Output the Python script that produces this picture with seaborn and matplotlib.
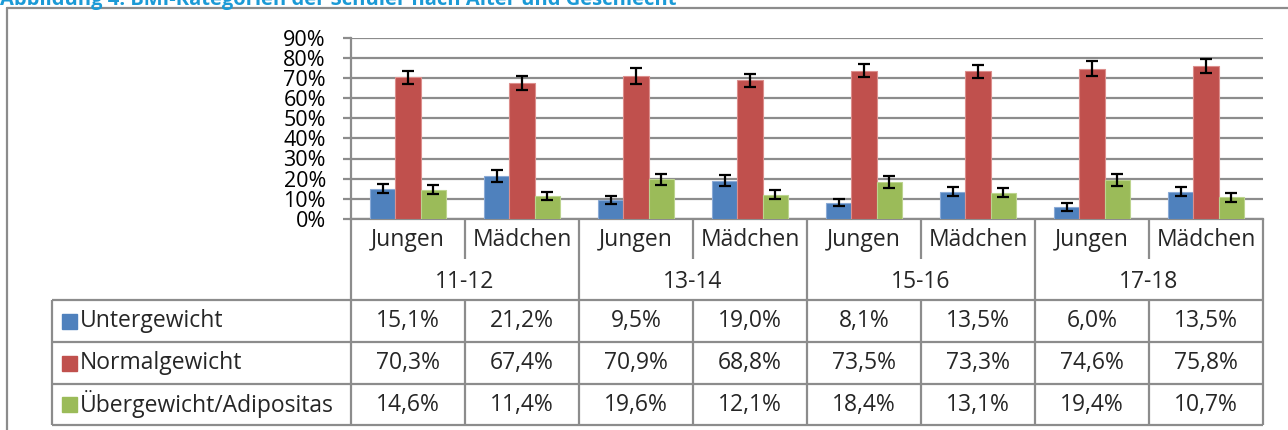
import pandas as pd
import matplotlib
matplotlib.use("Agg")
import matplotlib.pyplot as plt
import matplotlib.transforms as mtransforms
from matplotlib.lines import Line2D
from matplotlib.patches import Rectangle
import seaborn as sns

# daten
altersgruppen = ["11-12", "13-14", "15-16", "17-18"]
geschlechter = ["Jungen", "Mädchen"]
kategorien = ["Untergewicht", "Normalgewicht", "Übergewicht/Adipositas"]
untergewicht = [15.1, 21.2, 9.5, 19.0, 8.1, 13.5, 6.0, 13.5]
normalgewicht = [70.3, 67.4, 70.9, 68.8, 73.5, 73.3, 74.6, 75.8]
uebergewicht = [14.6, 11.4, 19.6, 12.1, 18.4, 13.1, 19.4, 10.7]
# halbe laenge der fehlerbalken
fehler_unter = [2.4, 3.0, 2.1, 2.7, 1.8, 2.3, 1.8, 2.2]
fehler_normal = [3.3, 3.6, 3.9, 3.2, 3.3, 3.2, 3.7, 3.3]
fehler_ueber = [2.3, 2.1, 2.9, 2.3, 3.0, 2.3, 3.1, 2.1]
y_ticks = [0, 10, 20, 30, 40, 50, 60, 70, 80, 90]
titel = "Abbildung 4: BMI-Kategorien der Schüler nach Alter und Geschlecht"

farben = ["#4F81BD", "#C0504D", "#9BBB59"]
kanten = ["#8AAAD6", "#DC8E8C", "#BCD48E"]
grau = "#8C8C8C"
fs = 16.5

# long format fuer seaborn
spalten = [a + "|" + g for a in altersgruppen for g in geschlechter]
werte = {"Untergewicht": untergewicht, "Normalgewicht": normalgewicht,
         "Übergewicht/Adipositas": uebergewicht}
rows = []
for kat in kategorien:
    for sp, w in zip(spalten, werte[kat]):
        rows.append({"spalte": sp, "kategorie": kat, "wert": w})
df = pd.DataFrame(rows)

sns.set_theme(style="white")
plt.rcParams["font.family"] = ["Open Sans", "DejaVu Sans"]

W, H = 1288, 430
fig = plt.figure(figsize=(W / 100, H / 100), dpi=100)
ax = fig.add_axes([351 / W, (H - 219) / H, (1263 - 351) / W, (219 - 37.5) / H])

sns.barplot(data=df, x="spalte", y="wert", hue="kategorie", order=spalten,
            hue_order=kategorien, palette=farben, width=0.67, saturation=1,
            errorbar=None, legend=False, ax=ax, zorder=3)

# fehlerbalken auf die balken setzen
for cont, errs, k in zip(ax.containers, [fehler_unter, fehler_normal, fehler_ueber], kanten):
    xs, hs = [], []
    for bar in cont:
        bar.set_edgecolor(k)
        bar.set_linewidth(0.8)
        xs.append(bar.get_x() + bar.get_width() / 2)
        hs.append(bar.get_height())
    ax.errorbar(xs, hs, yerr=errs, fmt="none", ecolor="black", elinewidth=1.6,
                capsize=4.3, capthick=1.6, zorder=5)

ax.set_xlim(-0.5, 7.5)
ax.set_ylim(0, 90)
ax.set_yticks(y_ticks)
ax.set_yticklabels([f"{t}%" for t in y_ticks])
ax.set_xticklabels([])
ax.set_xlabel("")
ax.set_ylabel("")
ax.grid(axis="y", color=grau, lw=1.6)
ax.set_axisbelow(True)
for s in ["top", "right"]:
    ax.spines[s].set_visible(False)
for s in ["left", "bottom"]:
    ax.spines[s].set_color(grau)
    ax.spines[s].set_linewidth(1.6)
ax.tick_params(axis="y", left=True, length=6, width=1.6, color=grau, pad=12,
               labelsize=15.5, labelcolor="black")
ax.tick_params(axis="x", bottom=False, length=0)

# pixel-koordinaten (oben links = 0,0)
px = mtransforms.Affine2D().scale(1 / W, -1 / H).translate(0, 1) + fig.transFigure
xd = mtransforms.blended_transform_factory(ax.transData, px)

def linie(x, y, t):
    fig.add_artist(Line2D(x, y, transform=t, color=grau, lw=1.6, solid_capstyle="butt"))

# achsenbeschriftung unter dem diagramm
for i in range(8):
    ax.text(i, 240, geschlechter[i % 2], transform=xd, ha="center", va="center", fontsize=fs)
for j, a in enumerate(altersgruppen):
    ax.text(2 * j + 0.5, 282, a, transform=xd, ha="center", va="center", fontsize=fs)
for i in range(9):
    xb = i - 0.5
    if i % 2 == 0:
        linie([xb, xb], [219, 425], xd)
    else:
        linie([xb, xb], [219, 259], xd)
        linie([xb, xb], [300, 425], xd)

# datentabelle
tab_links = -0.5 - (351 - 52) / 114
zeilen_y = [300, 342, 384, 425]
for yy in zeilen_y:
    linie([tab_links, 7.5], [yy, yy], xd)
linie([tab_links, tab_links], [300, 425], xd)

for r, kat in enumerate(kategorien):
    yc = (zeilen_y[r] + zeilen_y[r + 1]) / 2
    fig.add_artist(Rectangle((62, yc - 7.5), 15, 15, transform=px, color=farben[r]))
    fig.text(80, yc, kat, transform=px, ha="left", va="center", fontsize=fs)
    for i, w in enumerate(werte[kat]):
        txt = f"{w:.1f}%".replace(".", ",")
        ax.text(i, yc, txt, transform=xd, ha="center", va="center", fontsize=fs)

# rahmen und abgeschnittener titel
fig.add_artist(Line2D([7, W], [8, 8], transform=px, color=grau, lw=1.6))
fig.add_artist(Line2D([7, 7], [8, H], transform=px, color=grau, lw=1.6))
fig.text(0, 5, titel, transform=px, ha="left", va="baseline", fontsize=14.5,
         fontweight="bold", color="#1B9AD6")

fig.savefig("out.png", dpi=100)
